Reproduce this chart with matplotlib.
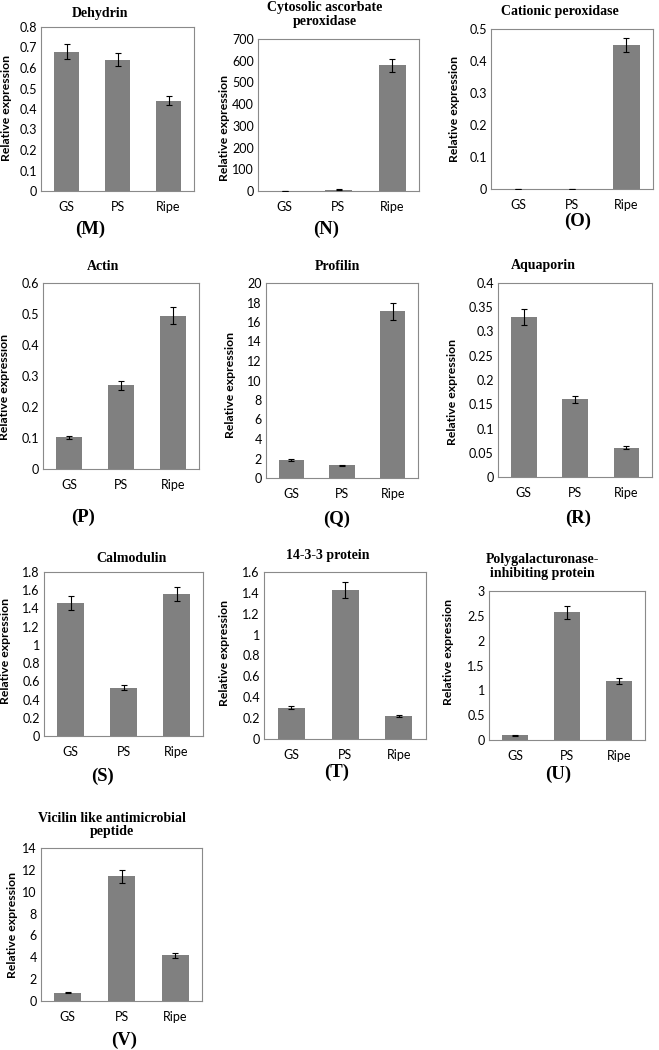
import matplotlib
matplotlib.use('Agg')
import matplotlib.pyplot as plt
from matplotlib.ticker import FuncFormatter
import numpy as np

W, H = 659, 1050

cats = ['GS', 'PS', 'Ripe']

# panel data (mean, error)
dehydrin = [0.68, 0.64, 0.44]
dehydrin_err = [0.035, 0.032, 0.022]
apx = [1.0, 6.0, 580.0]
apx_err = [0.5, 2.0, 30.0]
cat_perox = [0.0, 0.0, 0.45]
cat_perox_err = [0.0, 0.0, 0.022]
actin = [0.103, 0.27, 0.495]
actin_err = [0.005, 0.014, 0.026]
profilin = [1.8, 1.3, 17.1]
profilin_err = [0.1, 0.08, 0.9]
aquaporin = [0.33, 0.16, 0.06]
aquaporin_err = [0.017, 0.008, 0.003]
calmodulin = [1.46, 0.53, 1.56]
calmodulin_err = [0.075, 0.03, 0.08]
prot1433 = [0.30, 1.43, 0.22]
prot1433_err = [0.015, 0.075, 0.011]
pgip = [0.10, 2.57, 1.19]
pgip_err = [0.01, 0.13, 0.06]
vicilin = [0.75, 11.4, 4.2]
vicilin_err = [0.04, 0.6, 0.22]

titles = ['Dehydrin', 'Cytosolic ascorbate\nperoxidase', 'Cationic peroxidase',
          'Actin', 'Profilin', 'Aquaporin',
          'Calmodulin', '14-3-3 protein', 'Polygalacturonase-\ninhibiting protein',
          'Vicilin like antimicrobial\npeptide']
letters = ['(M)', '(N)', '(O)', '(P)', '(Q)', '(R)', '(S)', '(T)', '(U)', '(V)']
values = [dehydrin, apx, cat_perox, actin, profilin, aquaporin,
          calmodulin, prot1433, pgip, vicilin]
errors = [dehydrin_err, apx_err, cat_perox_err, actin_err, profilin_err, aquaporin_err,
          calmodulin_err, prot1433_err, pgip_err, vicilin_err]
ymax = [0.8, 700, 0.5, 0.6, 20, 0.4, 1.8, 1.6, 3, 14]
ystep = [0.1, 100, 0.1, 0.1, 2, 0.05, 0.2, 0.2, 0.5, 2]

# layout in pixels: axes box (left, top, right, bottom), title xy, letter xy, ylabel xy
boxes = [(41, 27, 194, 191), (258, 39, 419, 191), (491, 29, 653, 189),
         (43, 283, 199, 469), (266, 283, 418, 478), (498, 283, 652, 477),
         (44, 572, 203, 736), (264, 572, 426, 739), (489, 591, 645, 740),
         (41, 848, 202, 1001)]
title_xy = [(100, 13), (325, 15), (560, 11), (103, 266), (337, 266), (543, 265),
            (132, 559), (328, 556), (542, 567), (112, 825)]
letter_xy = [(90, 229), (326, 229), (578, 221), (83, 517), (337, 519), (578, 518),
             (102, 776), (337, 772), (558, 774), (124, 1040)]
ylabel_xy = [(7, 108), (224, 128), (455, 109), (5, 387), (230, 385), (452, 392),
             (6, 651), (224, 653), (449, 652), (13, 925)]

serif = 'Liberation Serif'
sans = 'Lato'
bar_color = '#808080'
frame_color = '#8a8a8a'

fig = plt.figure(figsize=(W / 100, H / 100), dpi=100)

def fx(x):
    return x / W

def fy(y):
    return 1 - y / H

for i in range(10):
    l, t, r, b = boxes[i]
    ax = fig.add_axes([fx(l), fy(b), (r - l) / W, (b - t) / H])
    x = np.arange(len(cats))
    ax.bar(x, values[i], width=0.5, color=bar_color, zorder=2)
    ax.errorbar(x, values[i], yerr=errors[i], fmt='none', ecolor='black',
                elinewidth=0.8, capsize=2.5, capthick=0.8, zorder=3)
    ax.set_xlim(-0.5, 2.5)
    ax.set_ylim(0, ymax[i])
    ax.set_yticks(np.arange(0, ymax[i] + ystep[i] / 2, ystep[i]))
    ax.yaxis.set_major_formatter(FuncFormatter(lambda v, p: '%g' % round(v, 3)))
    ax.set_xticks(x)
    ax.set_xticklabels(cats)
    ax.tick_params(length=0, labelsize=9, pad=3)
    ax.tick_params(axis='x', pad=7)
    for lab in ax.get_xticklabels() + ax.get_yticklabels():
        lab.set_fontfamily(sans)
    for sp in ax.spines.values():
        sp.set_color(frame_color)
        sp.set_linewidth(0.8)

    tx, ty = title_xy[i]
    fig.text(fx(tx), fy(ty), titles[i], ha='center', va='center',
             fontfamily=serif, fontweight='bold', fontsize=10, linespacing=1.1)
    lx, ly = letter_xy[i]
    fig.text(fx(lx), fy(ly), letters[i], ha='center', va='center',
             fontfamily=serif, fontweight='bold', fontsize=13.5)
    yx, yy = ylabel_xy[i]
    fig.text(fx(yx), fy(yy), 'Relative expression', ha='center', va='center',
             rotation=90, fontfamily=sans, fontweight='bold', fontsize=8.8)

fig.savefig('out.png', dpi=100)
